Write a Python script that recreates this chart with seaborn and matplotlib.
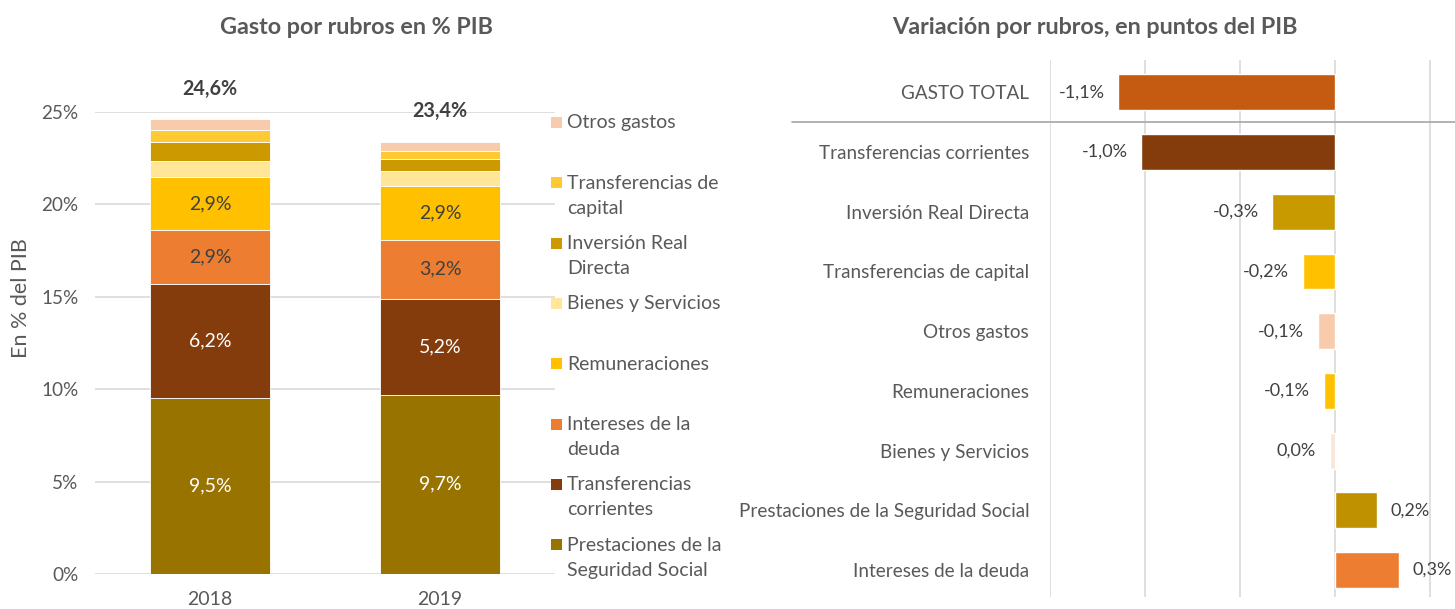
import pandas as pd
import seaborn as sns
import matplotlib.pyplot as plt
from matplotlib.patches import Rectangle

# Gasto por rubros (% PIB), ordered top of stack -> bottom
rubros = ['Otros gastos', 'Transferencias de capital', 'Inversión Real Directa',
          'Bienes y Servicios', 'Remuneraciones', 'Intereses de la deuda',
          'Transferencias corrientes', 'Prestaciones de la Seguridad Social']
legend_labels = ['Otros gastos', 'Transferencias de\ncapital', 'Inversión Real\nDirecta',
                 'Bienes y Servicios', 'Remuneraciones', 'Intereses de la\ndeuda',
                 'Transferencias\ncorrientes', 'Prestaciones de la\nSeguridad Social']
years = [2018, 2019]
gasto_2018 = [0.6, 0.65, 1.0, 0.85, 2.9, 2.9, 6.2, 9.5]
gasto_2019 = [0.5, 0.45, 0.65, 0.8, 2.9, 3.2, 5.2, 9.7]
totales = [24.6, 23.4]
rubro_colors = ['#F8CBAD', '#FFC933', '#CC9900', '#FFE699',
                '#FFC000', '#ED7D31', '#843C0C', '#997300']
labeled = {'Remuneraciones': '#404040', 'Intereses de la deuda': '#404040',
           'Transferencias corrientes': 'white',
           'Prestaciones de la Seguridad Social': 'white'}

# Variación por rubros, puntos del PIB
var_rubros = ['GASTO TOTAL', 'Transferencias corrientes', 'Inversión Real Directa',
              'Transferencias de capital', 'Otros gastos', 'Remuneraciones',
              'Bienes y Servicios', 'Prestaciones de la Seguridad Social',
              'Intereses de la deuda']
var_values = [-1.14, -1.02, -0.33, -0.17, -0.09, -0.06, -0.03, 0.22, 0.335]
var_colors = ['#C55A11', '#843C0C', '#C99A00', '#FFC000', '#F8CBAD',
              '#FFC000', '#FBE5D6', '#BF9000', '#ED7D31']


def fmt(v):
    return f"{round(v, 1) + 0:.1f}".replace('.', ',') + '%'


sns.set_style('white')
plt.rcParams['font.family'] = ['Lato', 'DejaVu Sans']
text_col = '#595959'
grid_col = '#D9D9D9'

fig = plt.figure(figsize=(14.55, 6.09), dpi=100)
ax1 = fig.add_axes([95 / 1455, 1 - 574 / 609, 460 / 1455, 462 / 609])
ax2 = fig.add_axes([1050 / 1455, 1 - 597 / 609, 405 / 1455, 537 / 609])

# ---- left: stacked bars ----
df = pd.DataFrame({
    'year': [y for y in years for _ in rubros],
    'rubro': rubros * 2,
    'value': gasto_2018 + gasto_2019,
})
sns.histplot(data=df, x='year', weights='value', hue='rubro', hue_order=rubros,
             palette=dict(zip(rubros, rubro_colors)), multiple='stack',
             discrete=True, shrink=0.52, alpha=1, edgecolor='white', linewidth=0.6,
             legend=False, ax=ax1)
ax1.set_xlim(2017.5, 2019.5)
ax1.set_ylim(0, 25)
ax1.set_yticks(range(0, 26, 5))
ax1.set_yticklabels([f'{t}%' for t in range(0, 26, 5)])
ax1.set_xticks(years)
ax1.set_xticklabels([str(y) for y in years])
ax1.grid(axis='y', color=grid_col, linewidth=1.2)
ax1.set_axisbelow(True)
sns.despine(ax=ax1, left=True, top=True, right=True, bottom=True)
ax1.tick_params(axis='y', length=0, pad=12, labelsize=13.6, labelcolor=text_col)
ax1.tick_params(axis='x', length=0, pad=12, labelsize=14, labelcolor=text_col)
ax1.set_xlabel('')
ax1.set_ylabel('En % del PIB', fontsize=15.5, color=text_col)
ax1.yaxis.set_label_coords(-0.14, 0.597)

for year, vals, tot in zip(years, [gasto_2018, gasto_2019], totales):
    base = 0
    for name, v in zip(rubros[::-1], vals[::-1]):
        if name in labeled:
            ax1.text(year, base + v / 2, fmt(v), ha='center', va='center',
                     fontsize=14, color=labeled[name])
        base += v
    ax1.annotate(fmt(tot), (year, base), xytext=(0, 22), textcoords='offset points',
                 ha='center', va='center', fontsize=14.2, fontweight='bold',
                 color='#404040', annotation_clip=False)

# manual legend
for i, (lab, col) in enumerate(zip(legend_labels, rubro_colors)):
    yc = 122.5 + i * 60.3
    fig.add_artist(Rectangle((551 / 1455, 1 - (yc + 5.5) / 609), 11 / 1455, 11 / 609,
                             facecolor=col, edgecolor='none', transform=fig.transFigure))
    fig.text(567 / 1455, 1 - (yc - 8) / 609, lab, ha='left', va='top',
             fontsize=14, color=text_col, linespacing=1.58)

# ---- right: variation bars ----
sns.barplot(x=var_values, y=var_rubros, hue=var_rubros,
            palette=dict(zip(var_rubros, var_colors)), legend=False,
            orient='h', width=0.6, saturation=1, ax=ax2)
ax2.set_xlim(-1.5, 0.63)
ax2.set_ylim(8.45, -0.54)
ax2.set_xticks([-1.5, -1.0, -0.5, 0, 0.5])
ax2.set_xticklabels([])
ax2.grid(axis='x', color=grid_col, linewidth=1.2)
ax2.set_axisbelow(True)
sns.despine(ax=ax2, left=True, top=True, right=True, bottom=True)
ax2.tick_params(axis='y', length=0, pad=15, labelsize=13.6, labelcolor=text_col)
ax2.tick_params(axis='x', length=0)
for cont in ax2.containers:
    ax2.bar_label(cont, labels=[fmt(v) for v in cont.datavalues], padding=10,
                  fontsize=13, color='#404040')
ax2.axhline(0.5, xmin=-258 / 405, xmax=1, color='#A6A6A6', linewidth=1.2, clip_on=False)

fig.text(357 / 1455, 1 - 27 / 609, 'Gasto por rubros en % PIB', ha='center', va='center',
         fontsize=16.8, fontweight='bold', color=text_col)
fig.text(1095 / 1455, 1 - 27 / 609, 'Variación por rubros, en puntos del PIB', ha='center',
         va='center', fontsize=16.8, fontweight='bold', color=text_col)

fig.savefig('out.png', dpi=100)
